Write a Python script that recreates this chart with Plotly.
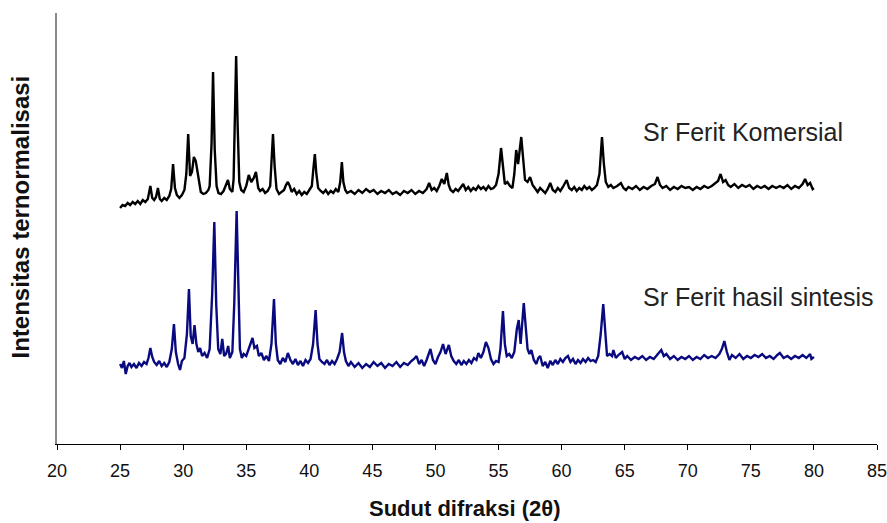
import plotly.graph_objects as go

# ---- data ----
# Sr Ferit Komersial (black), normalised intensity in arbitrary units
kom_2theta = [
    25.0, 25.2, 25.4, 25.6, 25.8, 26.0, 26.2, 26.4, 26.6, 26.8, 27.0, 27.2, 27.4, 27.55, 27.7, 27.85,
    28.0, 28.15, 28.3, 28.5, 28.7, 28.9, 29.05, 29.2, 29.35, 29.5, 29.7, 29.9, 30.1, 30.25, 30.4, 30.55,
    30.7, 30.85, 31.0, 31.1, 31.25, 31.4, 31.6, 31.8, 32.0, 32.1, 32.25, 32.37, 32.5, 32.65, 32.8, 33.0,
    33.2, 33.4, 33.55, 33.7, 33.9, 34.0, 34.1, 34.2, 34.32, 34.45, 34.6, 34.8, 35.0, 35.2, 35.4, 35.6,
    35.77, 35.95, 36.1, 36.3, 36.5, 36.7, 36.9, 37.0, 37.12, 37.25, 37.4, 37.6, 37.8, 38.0, 38.15, 38.3,
    38.45, 38.6, 38.8, 39.0, 39.2, 39.4, 39.6, 39.8, 40.0, 40.2, 40.32, 40.44, 40.56, 40.7, 40.9, 41.1,
    41.3, 41.5, 41.7, 41.9, 42.1, 42.3, 42.45, 42.58, 42.7, 42.85, 43.0, 43.3, 43.6, 43.9, 44.2, 44.5,
    44.8, 45.1, 45.4, 45.7, 46.0, 46.3, 46.6, 46.9, 47.2, 47.5, 47.8, 48.1, 48.4, 48.7, 49.0, 49.3,
    49.5, 49.7, 49.9, 50.1, 50.3, 50.5, 50.7, 50.9, 51.05, 51.2, 51.4, 51.6, 51.8, 52.0, 52.2, 52.4,
    52.6, 52.8, 53.0, 53.2, 53.4, 53.6, 53.8, 54.0, 54.2, 54.4, 54.6, 54.8, 55.0, 55.2, 55.35, 55.5,
    55.7, 55.9, 56.1, 56.25, 56.4, 56.55, 56.8, 56.95, 57.1, 57.3, 57.5, 57.7, 57.9, 58.1, 58.3, 58.5,
    58.7, 58.9, 59.1, 59.3, 59.5, 59.7, 59.9, 60.1, 60.4, 60.6, 60.8, 61.0, 61.2, 61.4, 61.6, 61.8,
    62.0, 62.2, 62.4, 62.6, 62.8, 63.0, 63.2, 63.35, 63.5, 63.7, 63.9, 64.1, 64.4, 64.7, 64.9, 65.1,
    65.3, 65.6, 65.9, 66.2, 66.5, 66.8, 67.1, 67.4, 67.6, 67.8, 68.0, 68.3, 68.6, 68.9, 69.2, 69.5,
    69.8, 70.1, 70.4, 70.7, 71.0, 71.3, 71.6, 71.9, 72.2, 72.4, 72.6, 72.8, 73.0, 73.2, 73.4, 73.7,
    74.0, 74.3, 74.6, 74.9, 75.2, 75.5, 75.8, 76.1, 76.4, 76.7, 77.0, 77.3, 77.6, 77.9, 78.2, 78.5,
    78.8, 79.1, 79.3, 79.5, 79.7, 79.9, 80.0,
]
kom_intensity = [
    236, 239, 238, 241, 239, 242, 240, 243, 240, 244, 242, 245, 258, 246, 244, 247,
    256, 245, 243, 246, 244, 248, 255, 280, 256, 249, 246, 249, 254, 270, 310, 268,
    272, 287, 283, 275, 262, 252, 250, 251, 254, 258, 300, 372, 295, 258, 251, 250,
    253, 260, 264, 255, 252, 265, 320, 388, 318, 262, 254, 252, 258, 269, 262, 266,
    272, 256, 253, 255, 251, 253, 258, 280, 310, 278, 255, 250, 252, 254, 259, 262,
    258, 252, 255, 250, 253, 249, 252, 250, 254, 258, 275, 290, 270, 256, 253, 251,
    254, 250, 253, 251, 255, 252, 262, 282, 262, 254, 251, 253, 250, 254, 251, 255,
    252, 254, 250, 253, 251, 254, 250, 252, 249, 253, 251, 254, 250, 253, 251, 255,
    261, 254, 256, 253, 258, 265, 260, 271, 259, 254, 252, 255, 253, 256, 260, 254,
    257, 253, 256, 254, 258, 255, 257, 254, 258, 255, 256, 259, 270, 296, 275, 260,
    262, 258, 256, 270, 294, 280, 307, 285, 264, 262, 267, 259, 255, 252, 256, 253,
    251, 255, 261, 254, 252, 256, 253, 257, 264, 256, 254, 257, 253, 256, 254, 258,
    255, 257, 254, 256, 259, 270, 307, 280, 262, 257, 259, 256, 258, 261, 256, 254,
    257, 255, 258, 254, 257, 255, 258, 260, 267, 259, 256, 258, 254, 257, 255, 258,
    256, 257, 254, 257, 255, 258, 256, 258, 261, 263, 270, 262, 264, 259, 257, 260,
    256, 259, 257, 259, 255, 258, 256, 258, 255, 258, 256, 258, 256, 259, 255, 258,
    256, 260, 265, 259, 261, 255, 256,
]

# Sr Ferit hasil sintesis (navy)
sin_2theta = [
    25.0, 25.15, 25.3, 25.45, 25.6, 25.75, 25.9, 26.1, 26.3, 26.5, 26.7, 26.9, 27.1, 27.25, 27.4, 27.55,
    27.7, 27.9, 28.1, 28.3, 28.5, 28.7, 28.9, 29.1, 29.27, 29.42, 29.6, 29.75, 29.9, 30.1, 30.3, 30.46,
    30.6, 30.75, 30.9, 31.05, 31.2, 31.35, 31.5, 31.7, 31.9, 32.1, 32.3, 32.47, 32.62, 32.78, 32.95, 33.1,
    33.25, 33.4, 33.57, 33.7, 33.9, 34.05, 34.24, 34.38, 34.5, 34.65, 34.8, 35.0, 35.2, 35.35, 35.5, 35.65,
    35.85, 36.0, 36.2, 36.4, 36.6, 36.8, 37.0, 37.2, 37.35, 37.5, 37.7, 37.9, 38.1, 38.3, 38.5, 38.7,
    38.9, 39.1, 39.3, 39.5, 39.7, 39.9, 40.1, 40.3, 40.5, 40.65, 40.8, 41.0, 41.2, 41.4, 41.6, 41.8,
    42.0, 42.2, 42.4, 42.6, 42.75, 42.9, 43.1, 43.3, 43.6, 43.9, 44.2, 44.5, 44.8, 45.1, 45.4, 45.7,
    46.0, 46.3, 46.6, 46.9, 47.2, 47.5, 47.8, 48.1, 48.3, 48.5, 48.7, 48.9, 49.1, 49.3, 49.6, 49.8,
    50.0, 50.2, 50.4, 50.6, 50.8, 51.06, 51.25, 51.45, 51.65, 51.85, 52.05, 52.25, 52.45, 52.65, 52.85, 53.05,
    53.25, 53.4, 53.6, 53.8, 54.0, 54.2, 54.4, 54.6, 54.8, 55.0, 55.15, 55.35, 55.5, 55.65, 55.85, 56.05,
    56.25, 56.45, 56.6, 56.75, 56.9, 57.0, 57.15, 57.3, 57.45, 57.6, 57.8, 58.0, 58.15, 58.3, 58.5, 58.7,
    58.9, 59.1, 59.3, 59.5, 59.7, 59.9, 60.1, 60.3, 60.5, 60.7, 60.9, 61.1, 61.3, 61.5, 61.7, 61.9,
    62.1, 62.3, 62.5, 62.7, 62.9, 63.1, 63.3, 63.45, 63.6, 63.8, 64.0, 64.1, 64.3, 64.5, 64.8, 65.0,
    65.2, 65.5, 65.8, 66.1, 66.4, 66.7, 67.0, 67.3, 67.6, 67.9, 68.1, 68.3, 68.6, 68.9, 69.2, 69.5,
    69.8, 70.1, 70.4, 70.7, 71.0, 71.3, 71.6, 71.9, 72.2, 72.5, 72.7, 72.9, 73.1, 73.3, 73.5, 73.8,
    74.1, 74.4, 74.7, 75.0, 75.3, 75.6, 75.9, 76.2, 76.5, 76.8, 77.1, 77.3, 77.6, 77.9, 78.2, 78.5,
    78.8, 79.1, 79.4, 79.7, 79.8, 80.0,
]
sin_intensity = [
    80, 76, 83, 70, 78, 81, 77, 80, 76, 81, 78, 82, 80, 86, 96, 87,
    82, 79, 83, 78, 81, 77, 82, 95, 120, 92, 80, 74, 83, 86, 110, 155,
    108, 100, 119, 100, 92, 96, 88, 91, 86, 95, 150, 222, 140, 95, 90, 105,
    88, 90, 98, 86, 92, 140, 233, 140, 95, 86, 90, 88, 95, 100, 106, 96,
    98, 88, 91, 84, 88, 83, 100, 145, 100, 84, 80, 86, 82, 91, 84, 80,
    85, 79, 83, 78, 84, 81, 85, 100, 134, 100, 85, 82, 80, 84, 79, 83,
    80, 85, 92, 111, 92, 83, 78, 82, 77, 81, 76, 80, 77, 82, 78, 81,
    76, 80, 78, 82, 77, 81, 79, 83, 85, 88, 80, 84, 78, 84, 95, 84,
    80, 87, 92, 100, 90, 99, 88, 83, 80, 84, 79, 83, 80, 84, 81, 86,
    84, 91, 86, 92, 102, 96, 85, 80, 83, 82, 95, 133, 100, 88, 90, 86,
    92, 115, 124, 100, 120, 141, 118, 95, 90, 94, 84, 80, 86, 88, 78, 82,
    76, 83, 79, 84, 80, 85, 82, 86, 88, 82, 85, 80, 84, 81, 85, 82,
    86, 83, 84, 82, 88, 110, 140, 110, 88, 90, 88, 94, 86, 89, 92, 85,
    88, 84, 87, 85, 88, 84, 87, 85, 89, 94, 88, 90, 85, 88, 84, 87,
    85, 88, 84, 87, 85, 89, 86, 88, 86, 90, 95, 103, 92, 84, 89, 86,
    90, 85, 88, 86, 89, 87, 90, 86, 88, 85, 89, 91, 86, 88, 85, 88,
    86, 89, 86, 90, 85, 87,
]

x_ticks = [20, 25, 30, 35, 40, 45, 50, 55, 60, 65, 70, 75, 80, 85]
label_kom = "Sr Ferit Komersial"
label_sin = "Sr Ferit hasil sintesis"
x_title = "Sudut difraksi (2θ)"
y_title = "Intensitas ternormalisasi"

FONT = "Liberation Sans, Arial, sans-serif"

fig = go.Figure()
fig.add_trace(go.Scatter(x=kom_2theta, y=kom_intensity, mode="lines",
                         line=dict(color="#000000", width=2.4), name=label_kom,
                         showlegend=False))
fig.add_trace(go.Scatter(x=sin_2theta, y=sin_intensity, mode="lines",
                         line=dict(color="#0a0a80", width=2.4), name=label_sin,
                         showlegend=False))

fig.update_layout(
    width=887, height=523, autosize=False,
    margin=dict(l=57, r=10, t=13, b=79, autoexpand=False),
    paper_bgcolor="white", plot_bgcolor="white",
    font=dict(family=FONT, color="#000000"),
    xaxis=dict(range=[20, 85], tickvals=x_ticks, ticktext=[str(v) for v in x_ticks],
               showgrid=False, zeroline=False, showline=True, linecolor="#000000",
               linewidth=1, ticks="outside", ticklen=5, tickcolor="#000000",
               tickfont=dict(size=18, family=FONT, color="#111111"),
               ticklabelstandoff=5, automargin=False, ticklabeloverflow="allow"),
    yaxis=dict(range=[0, 431], showticklabels=False, showgrid=False, zeroline=False,
               showline=True, linecolor="#8a8a8a", linewidth=2, ticks="",
               automargin=False),
    annotations=[
        dict(text=label_kom, x=66.3, y=312, xref="x", yref="y", xanchor="left",
             yanchor="middle", showarrow=False,
             font=dict(size=25, family=FONT, color="#222222")),
        dict(text=label_sin, x=66.3, y=147, xref="x", yref="y", xanchor="left",
             yanchor="middle", showarrow=False,
             font=dict(size=25, family=FONT, color="#222222")),
        dict(text="<b>" + x_title + "</b>", x=0.4976, y=-0.1485, xref="paper",
             yref="paper", xanchor="center", yanchor="middle", showarrow=False,
             font=dict(size=22, family=FONT, color="#111111")),
        dict(text="<b>" + y_title + "</b>", x=-0.0439, y=0.5255, xref="paper",
             yref="paper", xanchor="center", yanchor="middle", showarrow=False,
             textangle=-90, font=dict(size=24, family=FONT, color="#111111")),
    ],
)

fig.write_html("out.html", config={"displayModeBar": False},
               post_script="document.body.style.margin='0';document.body.style.padding='0';")
